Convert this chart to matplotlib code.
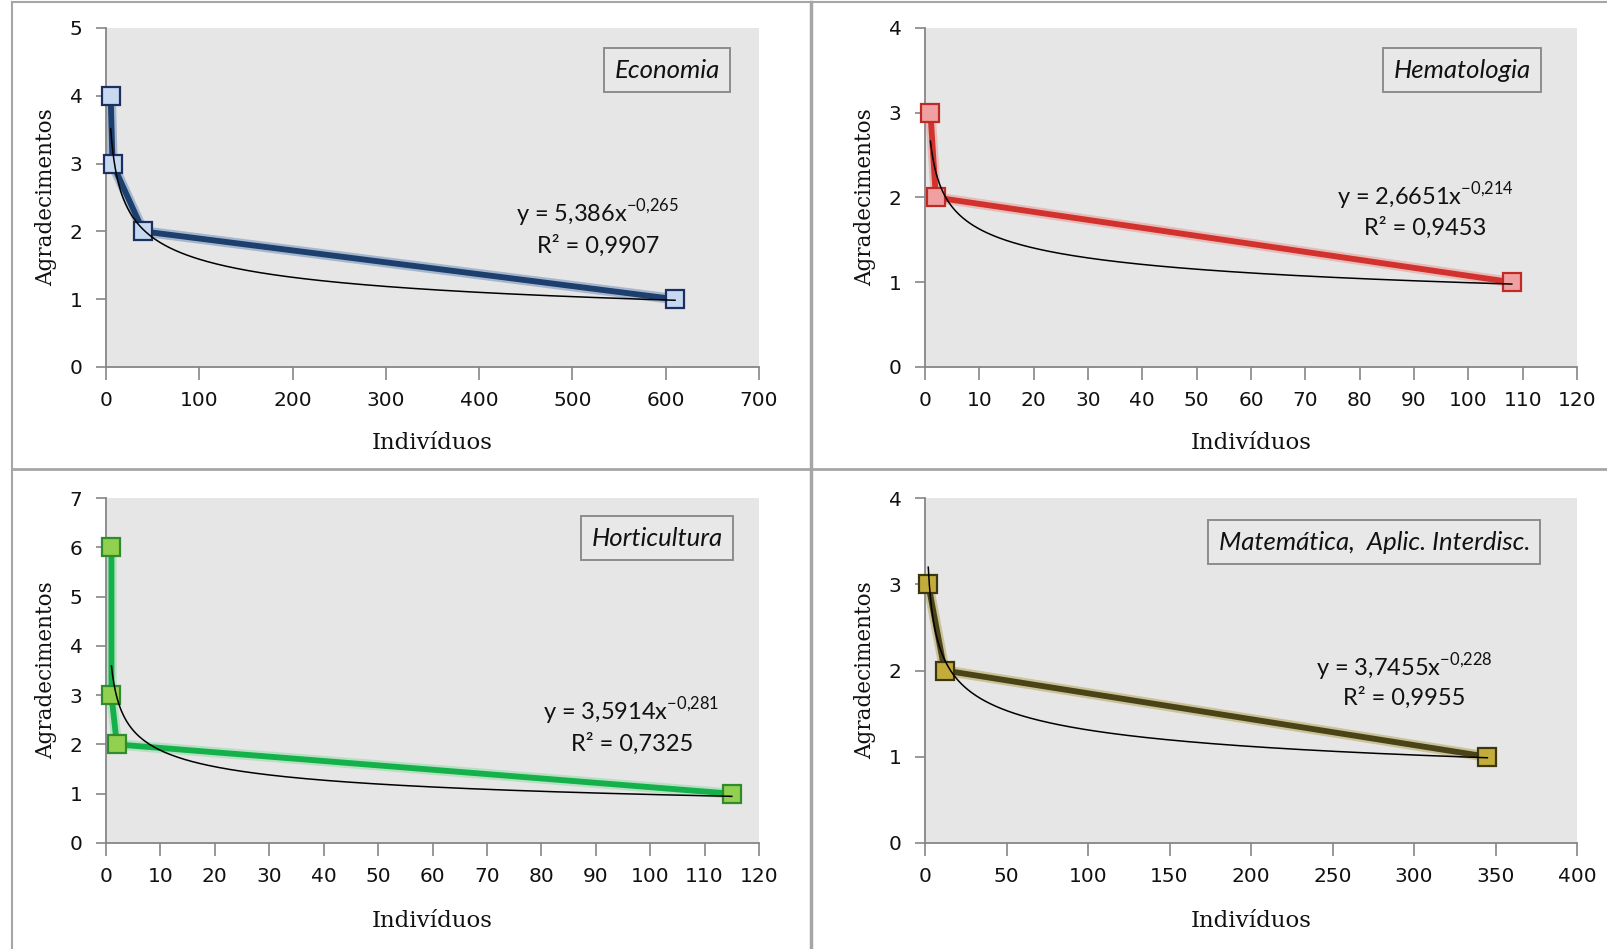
import numpy as np
import matplotlib
matplotlib.use('Agg')
from matplotlib import pyplot as plt
from matplotlib.lines import Line2D

# data
eco_x = [5, 7, 40, 610]
eco_y = [4, 3, 2, 1]
hem_x = [1, 2, 108]
hem_y = [3, 2, 1]
hor_x = [1, 1, 2, 115]
hor_y = [6, 3, 2, 1]
mat_x = [2, 12, 345]
mat_y = [3, 2, 1]

# power trendlines y = a*x^b as printed on the chart
eco_fit = (5.386, -0.265, '5,386', '-0{,}265', '0,9907')
hem_fit = (2.6651, -0.214, '2,6651', '-0{,}214', '0,9453')
hor_fit = (3.5914, -0.281, '3,5914', '-0{,}281', '0,7325')
mat_fit = (3.7455, -0.228, '3,7455', '-0{,}228', '0,9955')

titles = ['Economia', 'Hematologia', 'Horticultura', 'Matemática,  Aplic. Interdisc.']

plt.rcParams['mathtext.fontset'] = 'custom'
plt.rcParams['mathtext.rm'] = 'Lato'

W, H = 1607, 949
fig = plt.figure(figsize=(W / 100, H / 100), dpi=100)

# panel frames (pixel coords -> figure fractions)
def fr(l, t, r, b):
    return [l / W, 1 - b / H, (r - l) / W, (b - t) / H]

panels = [
    dict(x=eco_x, y=eco_y, fit=eco_fit, title=titles[0], rect=fr(106, 28, 759, 367),
         xmax=700, xstep=100, ymax=5, line='#1c3f6e', glow='#5a7fb0', face='#c6d9f1', edge='#1c2f5e',
         tpos=(0.859, 0.876), epos=(0.753, 0.454, 0.357)),
    dict(x=hem_x, y=hem_y, fit=hem_fit, title=titles[1], rect=fr(925, 28, 1577, 367),
         xmax=120, xstep=10, ymax=4, line='#d2322d', glow='#e88a86', face='#f0a0a0', edge='#c02a26',
         tpos=(0.824, 0.876), epos=(0.767, 0.504, 0.41)),
    dict(x=hor_x, y=hor_y, fit=hor_fit, title=titles[2], rect=fr(106, 498, 759, 843),
         xmax=120, xstep=10, ymax=7, line='#14b04a', glow='#7fd89a', face='#92d050', edge='#2e8b2e',
         tpos=(0.844, 0.884), epos=(0.805, 0.383, 0.287)),
    dict(x=mat_x, y=mat_y, fit=mat_fit, title=titles[3], rect=fr(925, 498, 1577, 843),
         xmax=400, xstep=50, ymax=4, line='#4a4318', glow='#a8973a', face='#c4ac3c', edge='#3d3710',
         tpos=(0.689, 0.872), epos=(0.735, 0.51, 0.42)),
]

for p in panels:
    ax = fig.add_axes(p['rect'])
    ax.set_facecolor('#e6e6e6')
    # data line with soft glow
    ax.plot(p['x'], p['y'], color=p['glow'], lw=7.5, alpha=0.45, solid_capstyle='round', zorder=2)
    ax.plot(p['x'], p['y'], color=p['line'], lw=4.2, solid_capstyle='round', zorder=3)
    ax.plot(p['x'], p['y'], ls='none', marker='s', ms=12.5, mfc=p['face'], mec=p['edge'], mew=1.6,
            zorder=4, clip_on=False)
    # trendline
    a, b = p['fit'][0], p['fit'][1]
    tx = np.linspace(min(p['x']), max(p['x']), 500)
    ax.plot(tx, a * tx ** b, color='black', lw=1.1, zorder=5)

    ax.set_xlim(0, p['xmax'])
    ax.set_ylim(0, p['ymax'])
    ax.set_xticks(np.arange(0, p['xmax'] + 1, p['xstep']))
    ax.set_yticks(np.arange(0, p['ymax'] + 1, 1))
    for s in ['top', 'right']:
        ax.spines[s].set_visible(False)
    for s in ['left', 'bottom']:
        ax.spines[s].set_color('#868686')
        ax.spines[s].set_linewidth(1.3)
    ax.tick_params(axis='x', direction='out', length=9, width=1.2, color='#868686',
                   pad=8, labelsize=14.5, labelcolor='#111111')
    ax.tick_params(axis='y', direction='out', length=7, width=1.2, color='#868686',
                   pad=10, labelsize=14.5, labelcolor='#111111')
    for lab in ax.get_xticklabels() + ax.get_yticklabels():
        lab.set_fontfamily('DejaVu Sans')

    ax.set_xlabel('Indivíduos', family='DejaVu Serif', fontsize=16.5, color='#111111', va='center')
    ax.set_ylabel('Agradecimentos', family='DejaVu Serif', fontsize=15.5, color='#111111', va='center')
    ax.xaxis.set_label_coords(0.5, -0.225)
    ax.yaxis.set_label_coords(-0.092, 0.5)

    ax.text(p['tpos'][0], p['tpos'][1], p['title'], transform=ax.transAxes, ha='center', va='center',
            family='Lato', style='italic', fontsize=18.5, color='#111111', zorder=6,
            bbox=dict(boxstyle='square,pad=0.4', fc='#e8e8e8', ec='#8c8c8c', lw=1.4))

    ex, ey1, ey2 = p['epos']
    eq = 'y = %sx$^{\\mathregular{%s}}$' % (p['fit'][2], p['fit'][3])
    ax.text(ex, ey1, eq, transform=ax.transAxes, ha='center', va='center',
            family='Lato', fontsize=17, color='#111111', zorder=6)
    ax.text(ex, ey2, 'R² = %s' % p['fit'][4], transform=ax.transAxes, ha='center', va='center',
            family='Lato', fontsize=17, color='#111111', zorder=6)

# panel border lines
gray = '#a6a6a6'
fig.add_artist(Line2D([12 / W, 12 / W], [0, 1 - 2 / H], color=gray, lw=1.5, transform=fig.transFigure))
fig.add_artist(Line2D([12 / W, 1], [1 - 2 / H, 1 - 2 / H], color=gray, lw=1.5, transform=fig.transFigure))
fig.add_artist(Line2D([811 / W, 811 / W], [0, 1 - 2 / H], color=gray, lw=2.5, transform=fig.transFigure))
fig.add_artist(Line2D([12 / W, 1], [1 - 469 / H, 1 - 469 / H], color=gray, lw=2, transform=fig.transFigure))

fig.savefig('out.png', dpi=100, facecolor='white')
